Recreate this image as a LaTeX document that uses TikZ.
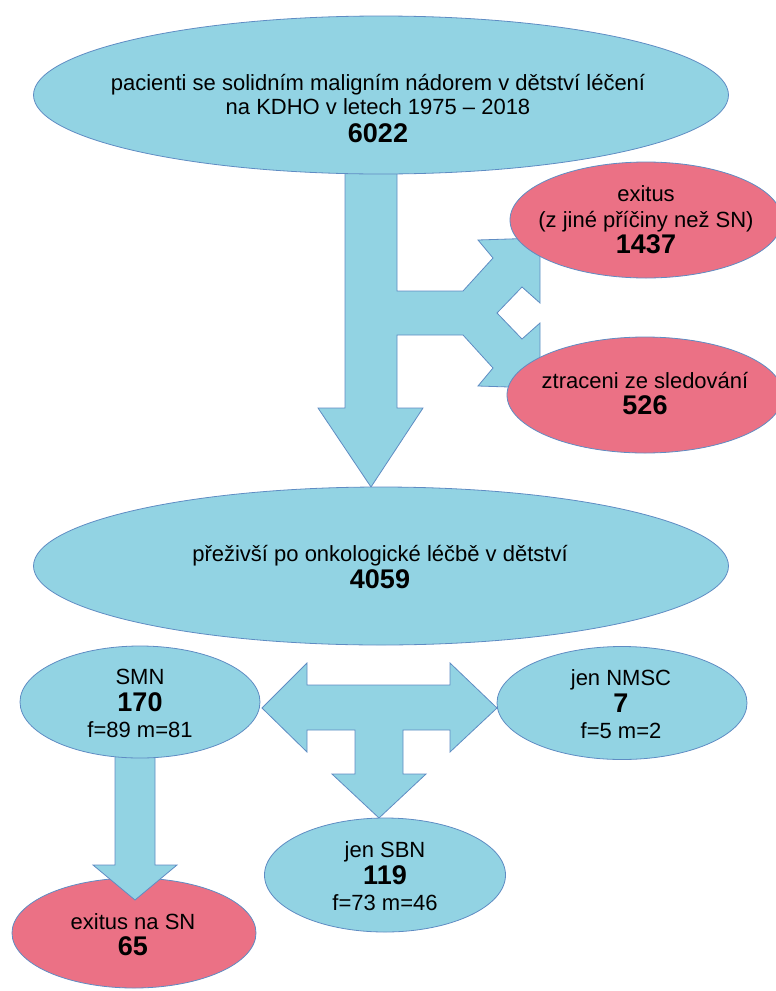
\documentclass[tikz,border=0pt]{standalone}
\usepackage{fontspec}
\setmainfont{Liberation Sans}
\usetikzlibrary{shapes.geometric}
\definecolor{fillblue}{RGB}{146,211,227}
\definecolor{fillred}{RGB}{235,113,133}
\definecolor{edgeblue}{RGB}{95,140,195}
\tikzset{
  blob/.style={ellipse, draw=edgeblue, fill=fillblue, line width=0.8pt, inner sep=0pt},
  redblob/.style={blob, fill=fillred},
  txt/.style={align=center, inner sep=0pt, font=\fontsize{22}{24}\selectfont},
  blockarrow/.style={draw=edgeblue, fill=fillblue, line width=0.8pt, line join=miter}
}
\newcommand{\bignum}[1]{{\fontsize{27}{31}\selectfont\bfseries #1}}
\begin{document}
\begin{tikzpicture}[x=1pt,y=-1pt]
\useasboundingbox (0,0) rectangle (776,991);
\clip (0,0) rectangle (776,991);
% main arrow with fork
\coordinate (M1) at (345,165);
\coordinate (M2) at (397,165);
\coordinate (F1) at (397,291);
\coordinate (F2) at (463,291);
\coordinate (F3) at (493,258);
\coordinate (F4) at (478,240);
\coordinate (F5) at (540,238);
\coordinate (F6) at (540,303);
\coordinate (F7) at (522,287);
\coordinate (F8) at (497,313);
\coordinate (F9) at (522,339);
\coordinate (F10) at (540,323);
\coordinate (F11) at (540,388);
\coordinate (F12) at (478,386);
\coordinate (F13) at (493,368);
\coordinate (F14) at (463,335);
\coordinate (F15) at (397,335);
\coordinate (M3) at (397,408);
\coordinate (M4) at (423,408);
\coordinate (M5) at (371,487);
\coordinate (M6) at (318,408);
\coordinate (M7) at (345,408);
\draw[blockarrow] (M1) -- (M2) -- (F1) -- (F2) -- (F3) -- (F4) -- (F5) -- (F6) -- (F7)
      -- (F8) -- (F9) -- (F10) -- (F11) -- (F12) -- (F13) -- (F14) -- (F15)
      -- (M3) -- (M4) -- (M5) -- (M6) -- (M7) -- cycle;
\node[blob, minimum width=695pt, minimum height=158pt] (pat) at (381,95) {};
\node[txt] (pattext) at (378,109) {pacienti se solidním maligním nádorem v dětství léčení\\na KDHO v letech 1975 – 2018\\[4pt]\bignum{6022}};
\node[redblob, minimum width=272pt, minimum height=116pt] (exit) at (646,220) {};
\node[txt] (exittext) at (646,220) {exitus\\[2pt](z jiné příčiny než SN)\\[2pt]\bignum{1437}};
\node[redblob, minimum width=276pt, minimum height=116pt] (lost) at (645,395) {};
\node[txt] (losttext) at (645,394) {ztraceni ze sledování\\[2pt]\bignum{526}};
\node[blob, minimum width=695pt, minimum height=158pt] (surv) at (381,566) {};
\node[txt] (survtext) at (380,567) {přeživší po onkologické léčbě v dětství\\[3pt]\bignum{4059}};
% split arrow
\coordinate (T1) at (262,708);
\coordinate (T2) at (307,663);
\coordinate (T3) at (307,685);
\coordinate (T4) at (450,685);
\coordinate (T5) at (450,663);
\coordinate (T6) at (497,708);
\coordinate (T7) at (450,752);
\coordinate (T8) at (450,730);
\coordinate (T9) at (403,730);
\coordinate (T10) at (403,774);
\coordinate (T11) at (426,774);
\coordinate (T12) at (379,818);
\coordinate (T13) at (332,774);
\coordinate (T14) at (355,774);
\coordinate (T15) at (355,730);
\coordinate (T16) at (307,730);
\coordinate (T17) at (307,752);
\draw[blockarrow] (T1) -- (T2) -- (T3) -- (T4) -- (T5) -- (T6) -- (T7) -- (T8) -- (T9)
      -- (T10) -- (T11) -- (T12) -- (T13) -- (T14) -- (T15) -- (T16) -- (T17) -- cycle;
\node[redblob, minimum width=244pt, minimum height=110pt] (death) at (134,933) {};
% arrow down from SMN
\coordinate (S1) at (115,750);
\coordinate (S2) at (155,750);
\coordinate (S3) at (155,865);
\coordinate (S4) at (177,865);
\coordinate (S5) at (135,900);
\coordinate (S6) at (93,865);
\coordinate (S7) at (115,865);
\draw[blockarrow] (S1) -- (S2) -- (S3) -- (S4) -- (S5) -- (S6) -- (S7) -- cycle;
\node[txt] (deathtext) at (133,935) {exitus na SN\\[2pt]\bignum{65}};
\node[blob, minimum width=240pt, minimum height=112pt] (smn) at (140,702) {};
\node[txt] (smntext) at (140,703) {SMN\\[3pt]\bignum{170}\\[2pt]f=89 m=81};
\node[blob, minimum width=250pt, minimum height=113pt] (nmsc) at (622,703) {};
\node[txt] (nmsctext) at (621,704) {jen NMSC\\[3pt]\bignum{7}\\[2pt]f=5 m=2};
\node[blob, minimum width=241pt, minimum height=114pt] (sbn) at (385,875) {};
\node[txt] (sbntext) at (385,876) {jen SBN\\[3pt]\bignum{119}\\[2pt]f=73 m=46};
\end{tikzpicture}
\end{document}
